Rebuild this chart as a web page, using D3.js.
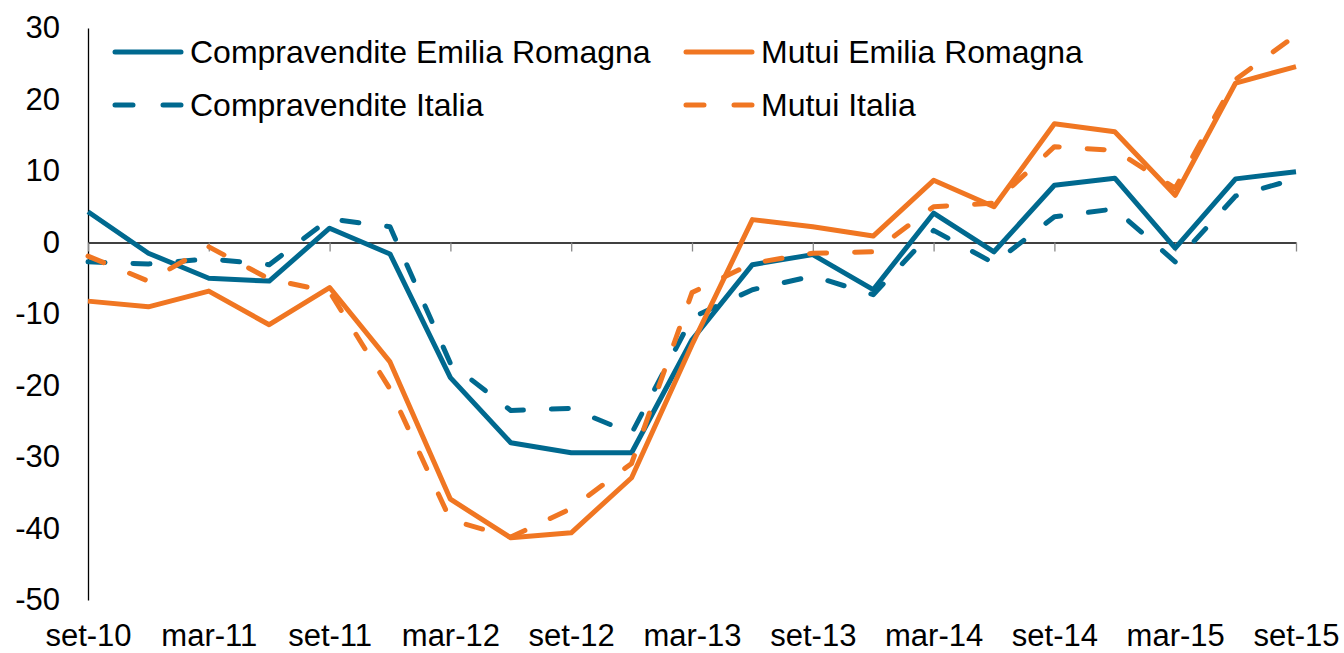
<!DOCTYPE html>
<html>
<head>
<meta charset="utf-8">
<script src="https://cdn.jsdelivr.net/npm/d3@7"></script>
<style>
  body { margin: 0; background: #fff; }
  svg { display: block; font-family: "Liberation Sans", Arial, sans-serif; }
</style>
</head>
<body>
<div id="chart"></div>
<script>
// quarters, set-10 .. set-15
var quarters = ["set-10","dic-10","mar-11","giu-11","set-11","dic-11","mar-12","giu-12",
  "set-12","dic-12","mar-13","giu-13","set-13","dic-13","mar-14","giu-14",
  "set-14","dic-14","mar-15","giu-15","set-15"];
var tickLabels = ["set-10","mar-11","set-11","mar-12","set-12","mar-13","set-13",
  "mar-14","set-14","mar-15","set-15"];
var yTicks = [-50, -40, -30, -20, -10, 0, 10, 20, 30];

var seriesNames = ["Compravendite Emilia Romagna", "Compravendite Italia",
  "Mutui Emilia Romagna", "Mutui Italia"];

var compravenditeER = [4.3, -1.5, -5.0, -5.4, 2.0, -1.6, -18.9, -28.0, -29.4, -29.4,
  -13.6, -3.1, -1.7, -6.6, 4.1, -1.3, 8.0, 9.0, -0.8, 8.9, 9.9];
var compravenditeIT = [-2.7, -3.0, -2.3, -3.1, 3.3, 2.2, -16.9, -23.5, -23.2, -26.7,
  -10.5, -6.6, -4.7, -7.3, 1.7, -2.9, 3.6, 4.7, -2.7, 6.5, 8.9];
var mutuiER = [-8.2, -9.0, -6.8, -11.5, -6.3, -16.7, -35.9, -41.3, -40.6, -32.9,
  -14.3, 3.2, 2.2, 0.9, 8.7, 5.0, 16.6, 15.5, 6.6, 22.3, 24.6];
var mutuiIT = [-1.9, -5.4, -0.6, -5.1, -6.9, -20.5, -38.8, -41.2, -37.2, -30.9,
  -7.0, -2.9, -1.5, -1.3, 5.0, 5.5, 13.4, 12.9, 7.6, 22.8, 29.0];

var blue = "#00698f";
var orange = "#f07622";
var dash = "17,28";

var series = [
  { name: seriesNames[0], values: compravenditeER, color: blue, dash: null },
  { name: seriesNames[1], values: compravenditeIT, color: blue, dash: dash },
  { name: seriesNames[2], values: mutuiER, color: orange, dash: null },
  { name: seriesNames[3], values: mutuiIT, color: orange, dash: dash }
];

var width = 1344, height = 653;

var svg = d3.select("#chart")
  .append("svg")
  .attr("width", width)
  .attr("height", height);

var x = d3.scalePoint()
  .domain(quarters)
  .range([88, 1296]);

var y = d3.scaleLinear()
  .domain([-50, 30])
  .range([600, 28]);

// y axis, plain hyphen for negatives
var yAxis = svg.append("g")
  .attr("transform", "translate(88,0)")
  .call(d3.axisLeft(y).tickValues(yTicks).tickSize(0).tickPadding(28).tickSizeOuter(0)
    .tickFormat(function(d) { return String(d); }));
yAxis.select(".domain").attr("stroke", "#000").attr("stroke-width", 1.3);
yAxis.selectAll("text")
  .style("font-size", "31px")
  .style("fill", "#000");

// x axis line at zero with tick marks
var xAxis = svg.append("g")
  .attr("transform", "translate(0," + y(0) + ")")
  .call(d3.axisBottom(x).tickValues(tickLabels).tickSize(9).tickSizeOuter(0).tickFormat(""));
xAxis.select(".domain").attr("stroke", "#000").attr("stroke-width", 1.3);
xAxis.selectAll(".tick line").attr("stroke", "#888").attr("stroke-width", 1.3);

// x labels along the bottom
var xLabels = svg.append("g")
  .attr("transform", "translate(0,618)")
  .call(d3.axisBottom(x).tickValues(tickLabels).tickSize(0).tickPadding(0));
xLabels.select(".domain").remove();
xLabels.selectAll("text")
  .attr("dy", "0.71em")
  .attr("y", 6)
  .style("font-size", "31px")
  .style("fill", "#000");

var line = d3.line()
  .x(function(d, i) { return x(quarters[i]); })
  .y(function(d) { return y(d); });

series.forEach(function(s) {
  svg.append("path")
    .datum(s.values)
    .attr("d", line)
    .attr("fill", "none")
    .attr("stroke", s.color)
    .attr("stroke-width", 5)
    .attr("stroke-linecap", s.dash ? "round" : "butt")
    .attr("stroke-linejoin", "round")
    .attr("stroke-dasharray", s.dash);
});

// legend
var legendPos = [
  { x: 115, y: 52 },
  { x: 115, y: 105 },
  { x: 686, y: 52 },
  { x: 686, y: 105 }
];

series.forEach(function(s, i) {
  var p = legendPos[i];
  svg.append("line")
    .attr("x1", p.x)
    .attr("x2", p.x + 66)
    .attr("y1", p.y)
    .attr("y2", p.y)
    .attr("stroke", s.color)
    .attr("stroke-width", 5)
    .attr("stroke-linecap", "round")
    .attr("stroke-dasharray", s.dash ? "18,30" : null);
  svg.append("text")
    .attr("x", p.x + 75)
    .attr("y", p.y + 11)
    .style("font-size", "32px")
    .style("fill", "#000")
    .text(s.name);
});
</script>
</body>
</html>
